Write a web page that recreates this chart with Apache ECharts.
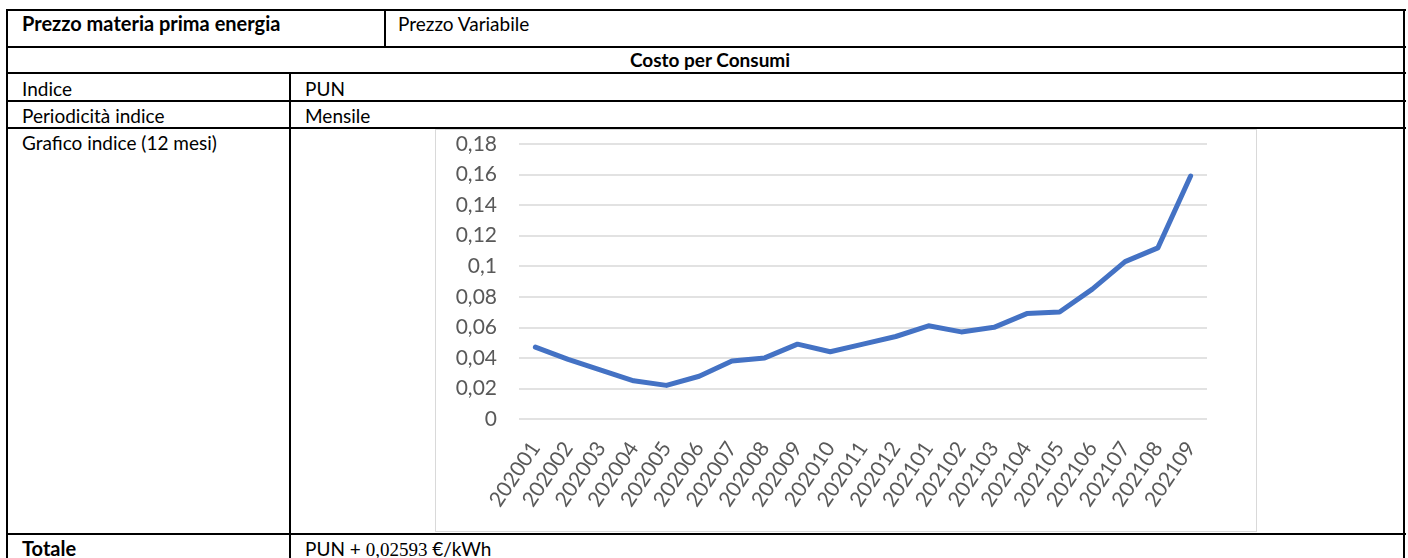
<!DOCTYPE html>
<html>
<head>
<meta charset="utf-8">
<script src="https://cdn.jsdelivr.net/npm/echarts@6/dist/echarts.min.js"></script>
<style>
  html, body { margin: 0; padding: 0; background: #fff; }
  body { width: 1408px; height: 558px; position: relative; overflow: hidden; font-family: Lato, "Noto Sans", sans-serif; color: #000; }
  .hl { position: absolute; height: 2px; background: #000; }
  .vl { position: absolute; width: 2px; background: #000; }
  .t { position: absolute; font-size: 19px; line-height: 19px; white-space: nowrap; }
  .b { font-weight: bold; }
  #box { position: absolute; left: 435px; top: 129px; width: 820px; height: 401px; border: 1.5px solid #d9d9d9; }
  #chart { position: absolute; left: 0; top: 0; width: 820px; height: 401px; }
</style>
</head>
<body>
<div class="hl" style="left:6px; width:1400px; top:9px;"></div>
<div class="hl" style="left:6px; width:1400px; top:46px;"></div>
<div class="hl" style="left:6px; width:1400px; top:72px;"></div>
<div class="hl" style="left:6px; width:1400px; top:100px;"></div>
<div class="hl" style="left:6px; width:1400px; top:127px;"></div>
<div class="hl" style="left:6px; width:1400px; top:533px;"></div>
<div class="vl" style="left:6px; top:9px; height:549px;"></div>
<div class="vl" style="left:1403px; top:9px; height:549px;"></div>
<div class="vl" style="left:384px; top:9px; height:38px;"></div>
<div class="vl" style="left:289px; top:72px; height:486px;"></div>

<div class="t b" style="left:22px; top:14px; font-size:20px;">Prezzo materia prima energia</div>
<div class="t" style="left:398px; top:14px;">Prezzo Variabile</div>
<div class="t b" style="left:10px; width:1400px; text-align:center; top:50px;">Costo per Consumi</div>
<div class="t" style="left:22px; top:79px;">Indice</div>
<div class="t" style="left:305px; top:79px;">PUN</div>
<div class="t" style="left:22px; top:106px;">Periodicità indice</div>
<div class="t" style="left:305px; top:106px;">Mensile</div>
<div class="t" style="left:22px; top:133px;">Grafico indice (12 mesi)</div>
<div class="t b" style="left:22px; top:539px; font-size:20px;">Totale</div>
<div class="t" style="left:305px; top:539px;">PUN + <span style="font-family:'Liberation Serif', serif;">0,02593</span> €/kWh</div>

<div id="box"><div id="chart"></div></div>

<script>
const categories = ['202001','202002','202003','202004','202005','202006','202007','202008','202009','202010','202011','202012','202101','202102','202103','202104','202105','202106','202107','202108','202109'];
const punValues = [0.047, 0.039, 0.032, 0.025, 0.022, 0.028, 0.038, 0.040, 0.049, 0.044, 0.049, 0.054, 0.061, 0.057, 0.060, 0.069, 0.070, 0.085, 0.103, 0.112, 0.159];
const yMin = 0, yMax = 0.18, yStep = 0.02;

const chart = echarts.init(document.getElementById('chart'), null, { renderer: 'canvas' });
chart.setOption({
  animation: false,
  backgroundColor: '#fff',
  grid: { left: 83, right: 49, top: 14, bottom: 112, containLabel: false },
  xAxis: {
    type: 'category',
    data: categories,
    boundaryGap: true,
    axisLine: { show: false },
    axisTick: { show: false },
    axisLabel: { rotate: 56, margin: 25, color: '#595959', fontSize: 21, fontFamily: 'Lato', interval: 0 }
  },
  yAxis: {
    type: 'value',
    min: yMin, max: yMax, interval: yStep,
    axisLine: { show: false },
    axisTick: { show: false },
    splitLine: { lineStyle: { color: '#d9d9d9', width: 1.5 } },
    axisLabel: {
      margin: 22, color: '#595959', fontSize: 21, fontFamily: 'Lato',
      formatter: v => parseFloat(v.toFixed(2)).toString().replace('.', ',')
    }
  },
  series: [{
    type: 'line',
    data: punValues,
    symbol: 'none',
    lineStyle: { color: '#4472C4', width: 5, cap: 'round', join: 'round' }
  }]
});
</script>
</body>
</html>
